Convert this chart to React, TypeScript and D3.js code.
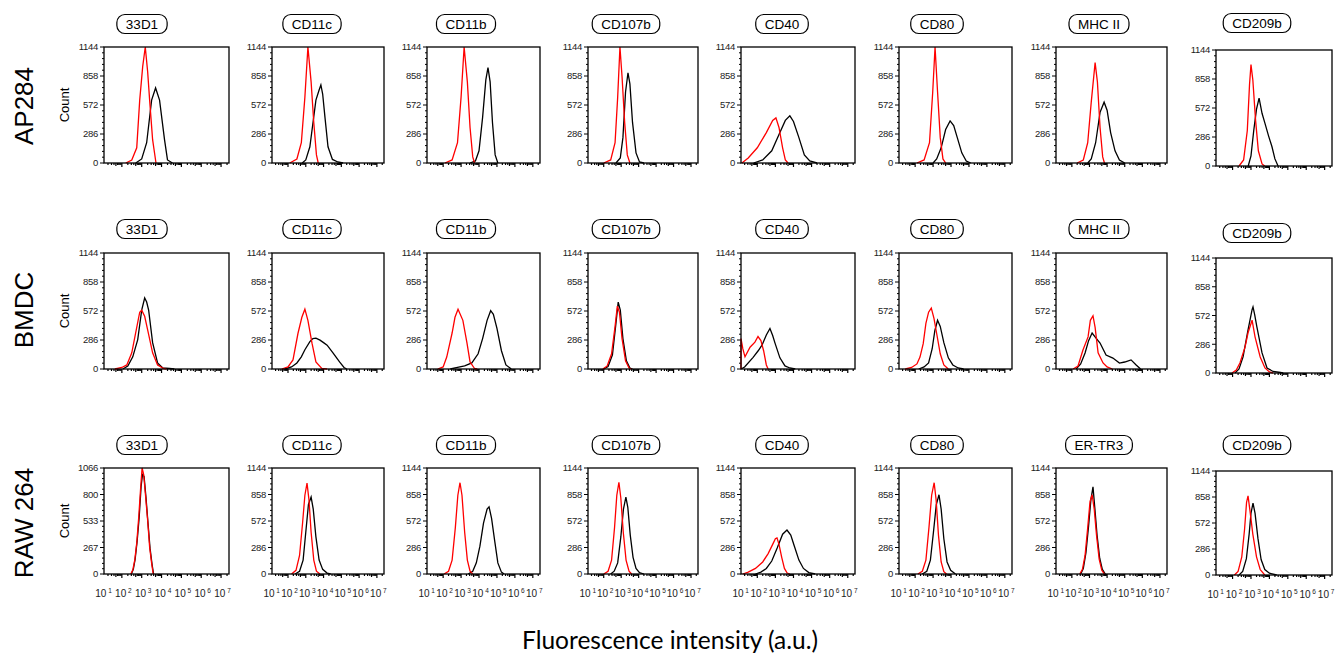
import React, { useEffect, useRef } from "react";
import * as d3 from "d3";

// cell lines (rows) and markers (columns)
const rowNames = ["AP284", "BMDC", "RAW 264"];
const markersAP284 = ["33D1", "CD11c", "CD11b", "CD107b", "CD40", "CD80", "MHC II", "CD209b"];
const markersBMDC = ["33D1", "CD11c", "CD11b", "CD107b", "CD40", "CD80", "MHC II", "CD209b"];
const markersRAW = ["33D1", "CD11c", "CD11b", "CD107b", "CD40", "CD80", "ER-TR3", "CD209b"];

// y tick labels (Count)
const countTicks1144 = [0, 286, 572, 858, 1144];
const countTicks1066 = [0, 267, 533, 800, 1066];
const yTicksAP284 = [1, 1, 1, 1, 1, 1, 1, 1].map(() => countTicks1144);
const yTicksBMDC = [1, 1, 1, 1, 1, 1, 1, 1].map(() => countTicks1144);
const yTicksRAW = [countTicks1066, countTicks1144, countTicks1144, countTicks1144, countTicks1144, countTicks1144, countTicks1144, countTicks1144];

// x tick labels: 10^1 .. 10^7
const decades = [1, 2, 3, 4, 5, 6, 7];

// histograms: [log10 fluorescence, count]; red = isotype control, black = stained
const ap284Red = [
  [[2.2, 0], [2.5, 30], [2.75, 150], [2.9, 620], [3.05, 950], [3.18, 1144], [3.3, 900], [3.4, 620], [3.55, 230], [3.72, 0]],
  [[2.1, 0], [2.5, 40], [2.75, 200], [2.95, 650], [3.12, 1144], [3.3, 800], [3.45, 400], [3.6, 80], [3.7, 0]],
  [[2.1, 0], [2.5, 30], [2.8, 200], [3.0, 650], [3.17, 1144], [3.35, 800], [3.5, 350], [3.65, 60], [3.75, 0]],
  [[2.0, 0], [2.4, 30], [2.65, 200], [2.8, 650], [2.93, 1144], [3.05, 850], [3.2, 400], [3.35, 80], [3.5, 0]],
  [[1.15, 0], [1.5, 50], [2.0, 150], [2.5, 300], [2.85, 420], [3.03, 445], [3.2, 350], [3.4, 150], [3.55, 30], [3.7, 0]],
  [[2.1, 0], [2.5, 30], [2.8, 200], [2.98, 700], [3.11, 1144], [3.25, 700], [3.4, 250], [3.55, 40], [3.7, 0]],
  [[2.3, 0], [2.65, 30], [2.9, 200], [3.1, 600], [3.32, 990], [3.45, 800], [3.6, 350], [3.75, 60], [3.85, 0]],
  [[2.35, 0], [2.6, 60], [2.8, 350], [2.92, 800], [3.0, 1000], [3.1, 850], [3.25, 450], [3.4, 150], [3.6, 20], [3.75, 0]],
];
const ap284Black = [
  [[2.7, 0], [3.0, 40], [3.25, 200], [3.5, 620], [3.7, 740], [3.9, 620], [4.15, 230], [4.3, 30], [4.55, 0]],
  [[2.8, 0], [3.0, 30], [3.23, 160], [3.57, 620], [3.75, 720], [3.85, 770], [3.95, 680], [4.08, 450], [4.25, 160], [4.5, 35], [4.8, 10], [5.1, 0]],
  [[3.5, 0], [3.8, 20], [4.0, 120], [4.2, 450], [4.38, 820], [4.5, 940], [4.62, 800], [4.75, 400], [4.9, 80], [5.05, 0]],
  [[2.7, 0], [2.95, 50], [3.1, 250], [3.25, 700], [3.39, 890], [3.5, 780], [3.65, 400], [3.85, 100], [4.05, 10], [4.3, 0]],
  [[1.8, 0], [2.3, 30], [2.8, 120], [3.2, 280], [3.55, 420], [3.8, 465], [4.0, 410], [4.3, 250], [4.6, 80], [4.9, 20], [5.3, 0]],
  [[3.0, 0], [3.2, 40], [3.45, 150], [3.7, 330], [3.95, 415], [4.15, 370], [4.35, 250], [4.6, 100], [4.85, 20], [5.1, 0]],
  [[2.9, 0], [3.1, 40], [3.35, 200], [3.6, 500], [3.83, 600], [4.0, 520], [4.2, 300], [4.45, 120], [4.7, 30], [5.0, 0]],
  [[2.85, 0], [3.0, 100], [3.15, 350], [3.3, 560], [3.44, 670], [3.6, 520], [3.76, 420], [3.95, 300], [4.14, 190], [4.3, 70], [4.47, 0]],
];
const bmdcRed = [
  [[1.65, 0], [2.0, 15], [2.25, 40], [2.5, 160], [2.75, 410], [2.9, 560], [3.0, 580], [3.15, 520], [3.3, 385], [3.55, 160], [3.8, 40], [4.1, 5], [4.25, 0]],
  [[1.65, 0], [2.0, 20], [2.28, 90], [2.56, 350], [2.78, 510], [2.95, 590], [3.12, 480], [3.35, 255], [3.57, 70], [3.9, 5], [4.2, 0]],
  [[1.7, 0], [2.0, 20], [2.2, 118], [2.5, 355], [2.66, 510], [2.83, 590], [3.1, 480], [3.33, 255], [3.5, 70], [3.75, 5], [3.9, 0]],
  [[1.95, 0], [2.2, 30], [2.45, 150], [2.65, 420], [2.78, 620], [2.9, 560], [3.05, 300], [3.25, 80], [3.45, 10], [3.6, 0]],
  [[1.1, 0], [1.1, 300], [1.2, 200], [1.32, 120], [1.6, 215], [1.87, 265], [2.04, 320], [2.2, 280], [2.35, 180], [2.5, 40], [2.6, 0]],
  [[1.45, 0], [1.8, 15], [2.1, 50], [2.27, 118], [2.45, 250], [2.6, 450], [2.75, 560], [2.9, 600], [3.05, 500], [3.2, 350], [3.4, 150], [3.6, 40], [3.85, 0]],
  [[2.07, 0], [2.35, 30], [2.63, 187], [2.92, 316], [3.05, 480], [3.2, 525], [3.32, 410], [3.49, 160], [3.77, 60], [4.0, 20], [4.3, 0]],
  [[1.97, 0], [2.2, 30], [2.4, 100], [2.68, 260], [2.84, 400], [3.06, 525], [3.22, 360], [3.5, 160], [3.76, 50], [4.0, 10], [4.2, 0]],
];
const bmdcBlack = [
  [[2.05, 0], [2.3, 30], [2.55, 120], [2.8, 290], [3.0, 580], [3.15, 700], [3.25, 660], [3.35, 580], [3.55, 260], [3.8, 60], [4.05, 12], [4.4, 5], [4.65, 0]],
  [[1.8, 0], [2.2, 20], [2.5, 60], [2.75, 120], [2.95, 190], [3.23, 270], [3.4, 300], [3.57, 305], [3.8, 285], [4.0, 260], [4.2, 235], [4.53, 160], [4.9, 70], [5.15, 15], [5.3, 0]],
  [[2.4, 0], [2.8, 15], [3.2, 30], [3.6, 60], [3.95, 150], [4.2, 300], [4.45, 480], [4.65, 575], [4.8, 540], [5.0, 400], [5.25, 180], [5.5, 40], [5.8, 0]],
  [[2.0, 0], [2.25, 25], [2.5, 140], [2.7, 450], [2.83, 660], [2.95, 580], [3.1, 300], [3.3, 80], [3.5, 10], [3.65, 0]],
  [[1.1, 0], [1.3, 20], [1.77, 115], [2.05, 180], [2.26, 235], [2.5, 335], [2.7, 400], [2.85, 330], [2.98, 255], [3.25, 110], [3.53, 30], [3.8, 10], [4.1, 0]],
  [[2.2, 0], [2.5, 20], [2.75, 60], [2.95, 200], [3.1, 380], [3.25, 480], [3.4, 420], [3.6, 260], [3.85, 110], [4.1, 40], [4.4, 10], [4.7, 0]],
  [[2.24, 0], [2.5, 50], [2.75, 158], [2.95, 280], [3.15, 355], [3.35, 310], [3.6, 256], [3.94, 138], [4.33, 108], [4.7, 59], [5.0, 69], [5.36, 90], [5.65, 40], [5.9, 0]],
  [[2.13, 0], [2.35, 40], [2.57, 160], [2.84, 430], [3.06, 630], [3.11, 657], [3.2, 580], [3.32, 460], [3.6, 200], [3.87, 50], [4.2, 15], [4.6, 5], [4.75, 0]],
];
const rawRed = [
  [[2.45, 0], [2.55, 40], [2.65, 140], [2.75, 310], [2.85, 570], [2.95, 875], [3.02, 1066], [3.1, 1000], [3.2, 775], [3.3, 540], [3.4, 270], [3.5, 110], [3.58, 0]],
  [[2.2, 0], [2.45, 40], [2.65, 200], [2.82, 550], [2.95, 850], [3.07, 980], [3.18, 800], [3.3, 450], [3.45, 150], [3.6, 30], [3.8, 0]],
  [[2.05, 0], [2.3, 30], [2.5, 150], [2.68, 500], [2.82, 850], [2.94, 985], [3.05, 850], [3.2, 450], [3.35, 150], [3.5, 30], [3.65, 0]],
  [[2.0, 0], [2.25, 30], [2.45, 150], [2.62, 500], [2.75, 850], [2.87, 990], [2.98, 820], [3.12, 450], [3.28, 150], [3.45, 30], [3.6, 0]],
  [[1.2, 0], [1.5, 20], [1.9, 60], [2.3, 130], [2.6, 220], [2.85, 320], [3.0, 380], [3.09, 390], [3.2, 320], [3.35, 180], [3.5, 60], [3.65, 10], [3.8, 0]],
  [[2.15, 0], [2.4, 30], [2.6, 150], [2.77, 500], [2.92, 850], [3.06, 985], [3.17, 800], [3.3, 420], [3.45, 130], [3.6, 25], [3.75, 0]],
  [[2.45, 0], [2.6, 50], [2.75, 200], [2.9, 500], [3.03, 780], [3.15, 855], [3.27, 700], [3.4, 420], [3.55, 160], [3.7, 40], [3.85, 0]],
  [[2.1, 0], [2.3, 40], [2.5, 200], [2.65, 500], [2.76, 800], [2.84, 870], [2.95, 700], [3.1, 450], [3.3, 200], [3.5, 60], [3.75, 0]],
];
const rawBlack = [
  [[2.48, 0], [2.58, 50], [2.67, 150], [2.77, 330], [2.87, 560], [2.97, 880], [3.04, 1000], [3.12, 980], [3.22, 760], [3.31, 530], [3.42, 260], [3.52, 100], [3.6, 0]],
  [[2.4, 0], [2.65, 30], [2.85, 150], [3.0, 450], [3.15, 750], [3.3, 830], [3.42, 700], [3.57, 400], [3.75, 150], [3.95, 50], [4.2, 10], [4.4, 0]],
  [[3.4, 0], [3.65, 30], [3.85, 120], [4.05, 300], [4.25, 550], [4.45, 700], [4.56, 725], [4.7, 600], [4.88, 350], [5.05, 120], [5.25, 20], [5.4, 0]],
  [[2.4, 0], [2.6, 30], [2.8, 120], [2.98, 400], [3.13, 700], [3.27, 830], [3.38, 720], [3.52, 420], [3.68, 180], [3.85, 60], [4.05, 15], [4.3, 0]],
  [[1.9, 0], [2.2, 20], [2.5, 60], [2.8, 140], [3.1, 280], [3.4, 430], [3.64, 475], [3.85, 420], [4.05, 300], [4.3, 150], [4.55, 60], [4.85, 15], [5.2, 0]],
  [[2.4, 0], [2.65, 30], [2.85, 150], [3.02, 450], [3.18, 750], [3.33, 855], [3.45, 700], [3.6, 380], [3.78, 130], [3.98, 40], [4.25, 0]],
  [[2.5, 0], [2.65, 60], [2.8, 230], [2.95, 520], [3.08, 800], [3.2, 940], [3.3, 720], [3.43, 420], [3.58, 170], [3.73, 50], [3.9, 0]],
  [[2.35, 0], [2.55, 40], [2.75, 180], [2.9, 450], [3.0, 680], [3.11, 790], [3.22, 680], [3.38, 400], [3.55, 170], [3.75, 60], [4.0, 20], [4.4, 0]],
];

const rows = [
  { name: rowNames[0], markers: markersAP284, ticks: yTicksAP284, red: ap284Red, black: ap284Black },
  { name: rowNames[1], markers: markersBMDC, ticks: yTicksBMDC, red: bmdcRed, black: bmdcBlack },
  { name: rowNames[2], markers: markersRAW, ticks: yTicksRAW, red: rawRed, black: rawBlack },
];

// layout
const W = 1343;
const H = 661;
const colLeft = [104, 272, 427, 588, 741, 899, 1056, 1216];
const colWidth = [125, 112, 113, 110, 114, 113, 111, 116];
const titleX = [142, 312, 466, 626, 782, 937, 1099, 1257];
const rowTop = [47, 253, 468];
const rowBottom = [163, 369, 574];
const lastTop = [50, 258, 471];
const lastBottom = [166, 373, 575];
const titleY = [24, 229, 445];
const lastTitleY = [23, 233, 445];
const rowLabelY = [106, 310, 523];
const xLogDomain = [1.1, 7.4];
const tickFont = "'Liberation Sans', Arial, sans-serif";

export default function App() {
  const svgRef = useRef<SVGSVGElement>(null);

  useEffect(() => {
    const svg = d3.select(svgRef.current);
    svg.selectAll("*").remove();

    svg.append("rect").attr("width", W).attr("height", H).attr("fill", "#fff");

    rows.forEach((row, ri) => {
      // row label
      svg.append("text")
        .attr("transform", `translate(33,${rowLabelY[ri]}) rotate(-90)`)
        .attr("text-anchor", "middle")
        .style("font-family", tickFont)
        .style("font-size", "26px")
        .attr("fill", "#000")
        .text(row.name);

      row.markers.forEach((marker, ci) => {
        const last = ci === 7;
        const left = colLeft[ci];
        const width = colWidth[ci];
        const top = last ? lastTop[ri] : rowTop[ri];
        const bottom = last ? lastBottom[ri] : rowBottom[ri];
        const ticks = row.ticks[ci];
        const yMax = ticks[ticks.length - 1];

        const x = d3.scaleLog()
          .domain([Math.pow(10, xLogDomain[0]), Math.pow(10, xLogDomain[1])])
          .range([left, left + width]);
        const y = d3.scaleLinear().domain([0, yMax]).range([bottom, top]);

        const g = svg.append("g");

        // x ticks (log decades with minor ticks)
        decades.forEach((k) => {
          d3.range(1, 10).forEach((m) => {
            const v = m * Math.pow(10, k);
            if (v < x.domain()[0] || v > x.domain()[1]) return;
            const px = x(v);
            g.append("line")
              .attr("x1", px).attr("x2", px)
              .attr("y1", bottom).attr("y2", bottom + (m === 1 ? 4 : m === 5 ? 3 : 2))
              .attr("stroke", "#000").attr("stroke-width", 1.2);
          });
        });

        // y ticks (major + minor)
        d3.range(0, 21).forEach((i) => {
          const v = (yMax * i) / 20;
          const major = i % 5 === 0;
          g.append("line")
            .attr("x1", left - (major ? 4 : 2)).attr("x2", left)
            .attr("y1", y(v)).attr("y2", y(v))
            .attr("stroke", "#000").attr("stroke-width", 1);
        });
        ticks.forEach((t) => {
          g.append("text")
            .attr("x", left - 6)
            .attr("y", y(t))
            .attr("dy", "0.35em")
            .attr("text-anchor", "end")
            .style("font-family", tickFont)
            .style("font-size", "9.5px")
            .style("letter-spacing", "-0.3px")
            .attr("fill", "#222")
            .text(t);
        });

        // x tick labels only on the bottom row
        if (ri === 2) {
          decades.forEach((k) => {
            const t = g.append("text")
              .attr("x", x(Math.pow(10, k)) + 1.5)
              .attr("y", bottom + 23)
              .attr("text-anchor", "middle")
              .style("font-family", tickFont)
              .style("font-size", "10px")
              .attr("fill", "#222");
            t.append("tspan").text("10");
            t.append("tspan").attr("dy", -4).style("font-size", "6.5px").text(` ${k}`);
          });
        }

        // histogram curves
        const line = d3.line<number[]>()
          .x((d) => x(Math.pow(10, d[0])))
          .y((d) => y(d[1]));
        g.append("path")
          .datum(row.black[ci])
          .attr("d", line)
          .attr("fill", "none")
          .attr("stroke", "#000")
          .attr("stroke-width", 1.3);
        g.append("path")
          .datum(row.red[ci])
          .attr("d", line)
          .attr("fill", "none")
          .attr("stroke", "#ff0000")
          .attr("stroke-width", 1.3);

        // frame
        g.append("rect")
          .attr("x", left).attr("y", top)
          .attr("width", width).attr("height", bottom - top)
          .attr("fill", "none").attr("stroke", "#000").attr("stroke-width", 1.3);

        // Count label in the first column
        if (ci === 0) {
          g.append("text")
            .attr("transform", `translate(69,${(top + bottom) / 2}) rotate(-90)`)
            .attr("text-anchor", "middle")
            .style("font-family", tickFont)
            .style("font-size", "13px")
            .attr("fill", "#000")
            .text("Count");
        }

        // marker title in a rounded box
        const ty = last ? lastTitleY[ri] : titleY[ri];
        const tg = svg.append("g");
        const label = tg.append("text")
          .attr("x", titleX[ci])
          .attr("y", ty)
          .attr("dy", "0.36em")
          .attr("text-anchor", "middle")
          .style("font-family", tickFont)
          .style("font-size", "13.5px")
          .attr("fill", "#000")
          .text(marker);
        const tw = (label.node() as SVGTextElement).getComputedTextLength();
        tg.insert("rect", "text")
          .attr("x", titleX[ci] - tw / 2 - 9)
          .attr("y", ty - 9.5)
          .attr("width", tw + 18)
          .attr("height", 19)
          .attr("rx", 8)
          .attr("fill", "#fff")
          .attr("stroke", "#000")
          .attr("stroke-width", 1.2);
      });
    });

    // shared x-axis title
    svg.append("text")
      .attr("x", 670)
      .attr("y", 649)
      .attr("text-anchor", "middle")
      .style("font-family", "Lato, 'Open Sans', sans-serif")
      .style("font-size", "24.5px")
      .attr("fill", "#000")
      .text("Fluorescence intensity (a.u.)");
  }, []);

  return (
    <svg
      ref={svgRef}
      width={W}
      height={H}
      style={{ position: "absolute", left: 0, top: 0 }}
    />
  );
}
